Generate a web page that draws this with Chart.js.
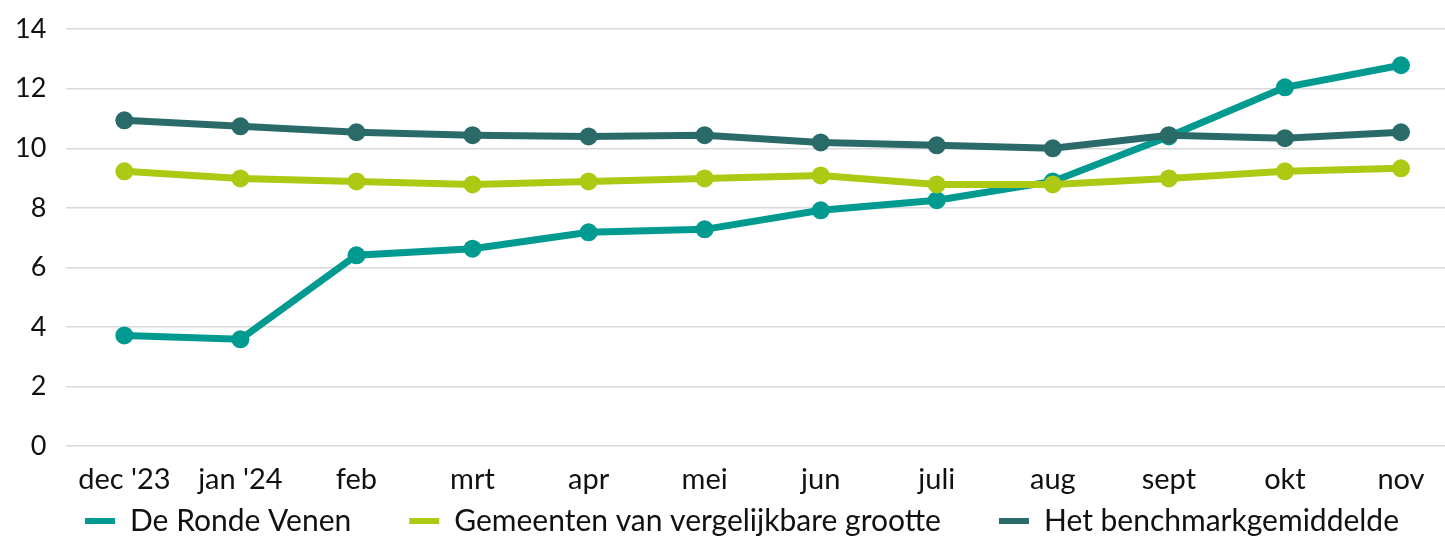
<!DOCTYPE html>
<html>
<head>
<meta charset="utf-8">
<script src="https://cdn.jsdelivr.net/npm/chart.js@4/dist/chart.umd.min.js"></script>
<style>
    html, body { margin: 0; padding: 0; background: #fff; overflow: hidden; }
    #chart-container { position: absolute; left: 0; top: -7px; width: 1468px; height: 618px; }
</style>
</head>
<body>
<div id="chart-container">
    <canvas id="lijnchart"></canvas>
</div>
<script>
const maanden = ["dec '23", "jan '24", 'feb', 'mrt', 'apr', 'mei', 'jun', 'juli', 'aug', 'sept', 'okt', 'nov'];

const rondeVenen = [3.72, 3.59, 6.41, 6.63, 7.18, 7.28, 7.92, 8.26, 8.89, 10.4, 12.05, 12.79];
const vergelijkbaar = [9.23, 8.99, 8.89, 8.79, 8.89, 8.99, 9.09, 8.79, 8.79, 8.99, 9.23, 9.33];
const benchmark = [10.94, 10.74, 10.54, 10.44, 10.40, 10.44, 10.2, 10.1, 10.0, 10.44, 10.34, 10.54];

const yTicks = [0, 2, 4, 6, 8, 10, 12, 14];

const kleurTeal = '#009a90';
const kleurLime = '#adc913';
const kleurDonker = '#2a6b6a';

Chart.defaults.font.family = 'Lato, "Open Sans", sans-serif';
Chart.defaults.font.size = 28;
Chart.defaults.color = '#111';

function lijn(label, data, kleur, volgorde) {
    return {
        label: label,
        data: data,
        borderColor: kleur,
        backgroundColor: kleur,
        borderWidth: 7,
        pointRadius: 9,
        pointHoverRadius: 9,
        pointBorderWidth: 0,
        pointBackgroundColor: kleur,
        tension: 0,
        order: volgorde
    };
}

// legend uses wide item spacing (padding) but should sit tight under the x labels
const legendPositie = {
    id: 'legendPositie',
    afterLayout(chart) {
        const l = chart.legend;
        l.top -= 65;
        l.bottom -= 65;
        l.left += 32;
        l.right += 32;
    }
};

const ctx = document.getElementById('lijnchart').getContext('2d');
const config = {
    type: 'line',
    data: {
        labels: maanden,
        datasets: [
            lijn('De Ronde Venen', rondeVenen, kleurTeal, 3),
            lijn('Gemeenten van vergelijkbare grootte', vergelijkbaar, kleurLime, 2),
            lijn('Het benchmarkgemiddelde', benchmark, kleurDonker, 1)
        ]
    },
    options: {
        responsive: true,
        maintainAspectRatio: false,
        animation: false,
        layout: {
            // x labels add overhang on the left, pull the plot back to the edge
            padding: { top: 5, left: -5, right: 0, bottom: 0 }
        },
        scales: {
            x: {
                offset: true,
                grid: { display: false, drawTicks: false },
                border: { display: false },
                ticks: { padding: 16, maxRotation: 0, autoSkip: false, font: { size: 29 } }
            },
            y: {
                min: 0,
                max: 14,
                afterBuildTicks: (axis) => {
                    axis.ticks = yTicks.map(v => ({ value: v }));
                },
                grid: { color: '#d9d9d9', lineWidth: 1.5, drawTicks: false },
                border: { display: false },
                ticks: { padding: 20, font: { size: 27 } }
            }
        },
        plugins: {
            tooltip: { enabled: false },
            legend: {
                position: 'bottom',
                align: 'start',
                labels: {
                    boxWidth: 30,
                    boxHeight: 6,
                    padding: 58,
                    font: { size: 30 },
                    sort: (a, b) => a.datasetIndex - b.datasetIndex,
                    generateLabels: (chart) => {
                        const items = Chart.defaults.plugins.legend.labels.generateLabels(chart);
                        items.forEach(it => { it.lineWidth = 0; });
                        return items;
                    }
                }
            }
        }
    },
    plugins: [legendPositie]
};

const myChart = new Chart(ctx, config);
</script>
</body>
</html>
